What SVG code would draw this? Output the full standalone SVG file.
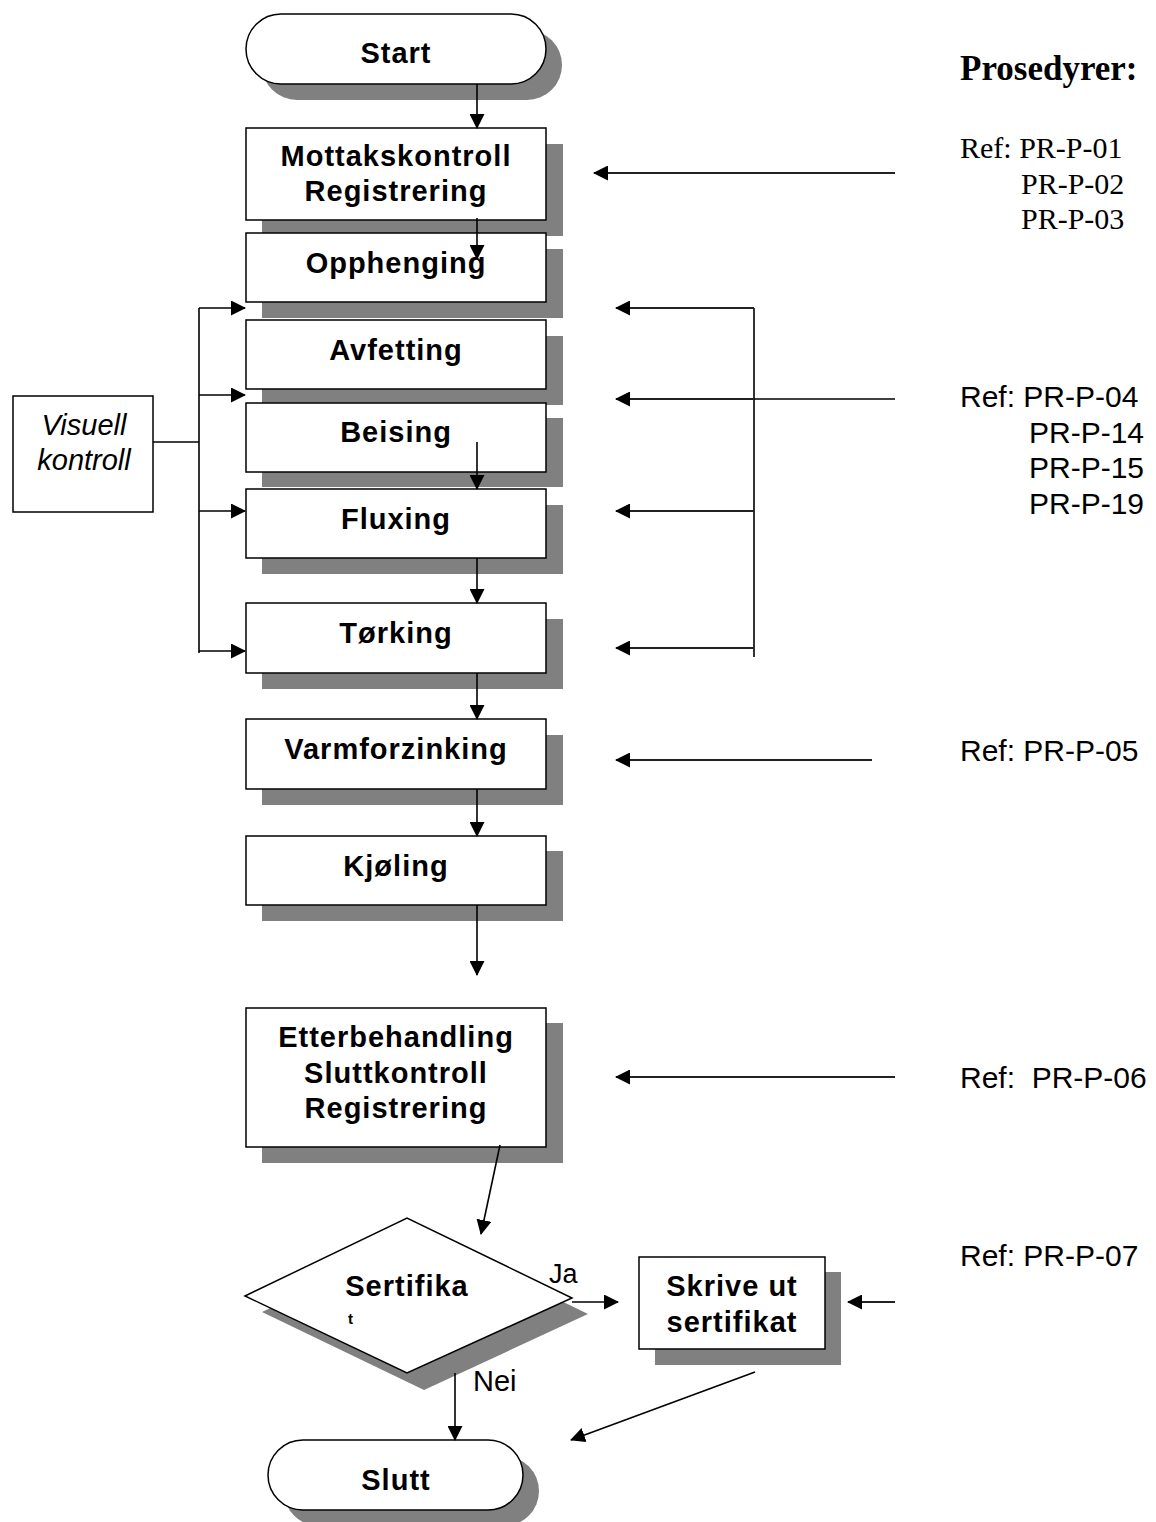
<svg xmlns="http://www.w3.org/2000/svg" width="1156" height="1522" viewBox="0 0 1156 1522">
<style>
.bg{fill:#ffffff}
.sh{fill:#808080;stroke:none}
.box{fill:#ffffff;stroke:#000;stroke-width:1.5}
.lbl{font-family:"Liberation Sans",Arial,sans-serif;font-weight:bold;font-size:29px;letter-spacing:1px;fill:#000;text-anchor:middle}
.it{font-family:"Liberation Sans",Arial,sans-serif;font-style:italic;font-size:29px;fill:#000;text-anchor:middle}
.ref{font-family:"Liberation Sans",Arial,sans-serif;font-size:30px;fill:#000}
.tref{font-family:"Liberation Serif","Times New Roman",serif;font-size:30px;fill:#000}
.ln{fill:none;stroke:#000;stroke-width:1.6}
.lnr{fill:none;stroke:#222;stroke-width:2.2}
</style>
<defs>
<marker id="ah" markerUnits="userSpaceOnUse" markerWidth="15" markerHeight="15" refX="14" refY="7.5" orient="auto">
<path d="M0,0 L15,7.5 L0,15 z" fill="#000"/>
</marker>
</defs>
<rect class="bg" x="0" y="0" width="1156" height="1522"/>

<g id="start">
<rect class="sh" x="262" y="30" width="300" height="70" rx="35"/>
<rect class="box" x="246" y="14" width="300" height="70" rx="35"/>
<text class="lbl" x="396" y="63">Start</text>
</g>
<g id="mottak">
<rect class="sh" x="262" y="144" width="301" height="92"/>
<rect class="box" x="246" y="128" width="300" height="92"/>
<text class="lbl" x="396" y="166">Mottakskontroll</text>
<text class="lbl" x="396" y="201">Registrering</text>
</g>
<g id="opphenging">
<rect class="sh" x="262" y="249" width="301" height="69"/>
<rect class="box" x="246" y="233" width="300" height="69"/>
<text class="lbl" x="396" y="273">Opphenging</text>
</g>
<g id="avfetting">
<rect class="sh" x="262" y="336" width="301" height="69"/>
<rect class="box" x="246" y="320" width="300" height="69"/>
<text class="lbl" x="396" y="360">Avfetting</text>
</g>
<g id="beising">
<rect class="sh" x="262" y="418" width="301" height="69"/>
<rect class="box" x="246" y="403" width="300" height="69"/>
<text class="lbl" x="396" y="442">Beising</text>
</g>
<g id="fluxing">
<rect class="sh" x="262" y="505" width="301" height="69"/>
<rect class="box" x="246" y="489" width="300" height="69"/>
<text class="lbl" x="396" y="529">Fluxing</text>
</g>
<g id="torking">
<rect class="sh" x="262" y="619" width="301" height="70"/>
<rect class="box" x="246" y="603" width="300" height="70"/>
<text class="lbl" x="396" y="643">Tørking</text>
</g>
<g id="varmforzinking">
<rect class="sh" x="262" y="735" width="301" height="70"/>
<rect class="box" x="246" y="719" width="300" height="70"/>
<text class="lbl" x="396" y="759">Varmforzinking</text>
</g>
<g id="kjoling">
<rect class="sh" x="262" y="851" width="301" height="70"/>
<rect class="box" x="246" y="836" width="300" height="69"/>
<text class="lbl" x="396" y="876">Kjøling</text>
</g>
<g id="etterbehandling">
<rect class="sh" x="262" y="1023" width="301" height="140"/>
<rect class="box" x="246" y="1008" width="300" height="139"/>
<text class="lbl" x="396" y="1047">Etterbehandling</text>
<text class="lbl" x="396" y="1083">Sluttkontroll</text>
<text class="lbl" x="396" y="1118">Registrering</text>
</g>
<g id="sertifikat">
<polygon class="sh" points="262,1312 424,1234 588,1314 424,1390"/>
<polygon class="box" points="245,1296 407,1218 572,1298 407,1373"/>
<text class="lbl" x="407" y="1296">Sertifika</text>
<text class="lbl" x="351" y="1324" style="font-size:15px">t</text>
</g>
<g id="skrive">
<rect class="sh" x="655" y="1272" width="186" height="93"/>
<rect class="box" x="639" y="1257" width="186" height="92"/>
<text class="lbl" x="732" y="1296">Skrive ut</text>
<text class="lbl" x="732" y="1332">sertifikat</text>
</g>
<g id="slutt">
<rect class="sh" x="284" y="1456" width="255" height="70" rx="35"/>
<rect class="box" x="268" y="1440" width="255" height="70" rx="35"/>
<text class="lbl" x="396" y="1490">Slutt</text>
</g>
<g id="visuell">
<rect class="box" x="13" y="396" width="140" height="116"/>
<text class="it" x="84" y="435">Visuell</text>
<text class="it" x="84" y="470">kontroll</text>
</g>

<g id="labels">
<text x="960" y="80" style="font-family:'Liberation Serif','Times New Roman',serif;font-weight:bold;font-size:35px;fill:#000">Prosedyrer:</text>
<text class="tref" x="960" y="158">Ref: PR-P-01</text>
<text class="tref" x="1021" y="194">PR-P-02</text>
<text class="tref" x="1021" y="229">PR-P-03</text>
<text class="ref" x="960" y="407">Ref: PR-P-04</text>
<text class="ref" x="1029" y="443">PR-P-14</text>
<text class="ref" x="1029" y="478">PR-P-15</text>
<text class="ref" x="1029" y="514">PR-P-19</text>
<text class="ref" x="960" y="761">Ref: PR-P-05</text>
<text class="ref" x="960" y="1088" xml:space="preserve">Ref:  PR-P-06</text>
<text class="ref" x="960" y="1266">Ref: PR-P-07</text>
<text x="549" y="1283" style="font-family:'Liberation Sans',Arial,sans-serif;font-size:27px;fill:#000">Ja</text>
<text x="473" y="1391" style="font-family:'Liberation Sans',Arial,sans-serif;font-size:29px;fill:#000">Nei</text>
</g>

<g id="connectors">
<line class="ln" x1="477" y1="84" x2="477" y2="128" marker-end="url(#ah)"/>
<line class="ln" x1="477" y1="218" x2="477" y2="259" marker-end="url(#ah)"/>
<line class="ln" x1="477" y1="442" x2="477" y2="489" marker-end="url(#ah)"/>
<line class="ln" x1="477" y1="558" x2="477" y2="603" marker-end="url(#ah)"/>
<line class="ln" x1="477" y1="673" x2="477" y2="719" marker-end="url(#ah)"/>
<line class="ln" x1="477" y1="789" x2="477" y2="836" marker-end="url(#ah)"/>
<line class="ln" x1="477" y1="905" x2="477" y2="975" marker-end="url(#ah)"/>
<line class="ln" x1="500" y1="1145" x2="481" y2="1234" marker-end="url(#ah)"/>
<line class="ln" x1="572" y1="1302" x2="618" y2="1302" marker-end="url(#ah)"/>
<line class="ln" x1="455" y1="1373" x2="455" y2="1440" marker-end="url(#ah)"/>
<line class="ln" x1="755" y1="1372" x2="571" y2="1440" marker-end="url(#ah)"/>
<line class="lnr" x1="895" y1="1302" x2="848" y2="1302" marker-end="url(#ah)"/>
<polyline class="ln" points="153,442 199,442"/>
<line class="ln" x1="199" y1="308" x2="199" y2="653"/>
<line class="ln" x1="199" y1="308" x2="245" y2="308" marker-end="url(#ah)"/>
<line class="ln" x1="199" y1="395" x2="245" y2="395" marker-end="url(#ah)"/>
<line class="ln" x1="199" y1="511" x2="245" y2="511" marker-end="url(#ah)"/>
<line class="ln" x1="199" y1="651" x2="245" y2="651" marker-end="url(#ah)"/>
<line class="lnr" x1="895" y1="173" x2="594" y2="173" marker-end="url(#ah)"/>
<line class="ln" x1="754" y1="308" x2="754" y2="657"/>
<line class="lnr" x1="754" y1="308" x2="616" y2="308" marker-end="url(#ah)"/>
<line class="ln" x1="895" y1="399" x2="754" y2="399"/>
<line class="lnr" x1="754" y1="399" x2="616" y2="399" marker-end="url(#ah)"/>
<line class="lnr" x1="754" y1="511" x2="616" y2="511" marker-end="url(#ah)"/>
<line class="lnr" x1="754" y1="648" x2="616" y2="648" marker-end="url(#ah)"/>
<line class="lnr" x1="872" y1="760" x2="616" y2="760" marker-end="url(#ah)"/>
<line class="lnr" x1="895" y1="1077" x2="616" y2="1077" marker-end="url(#ah)"/>
</g>
</svg>
